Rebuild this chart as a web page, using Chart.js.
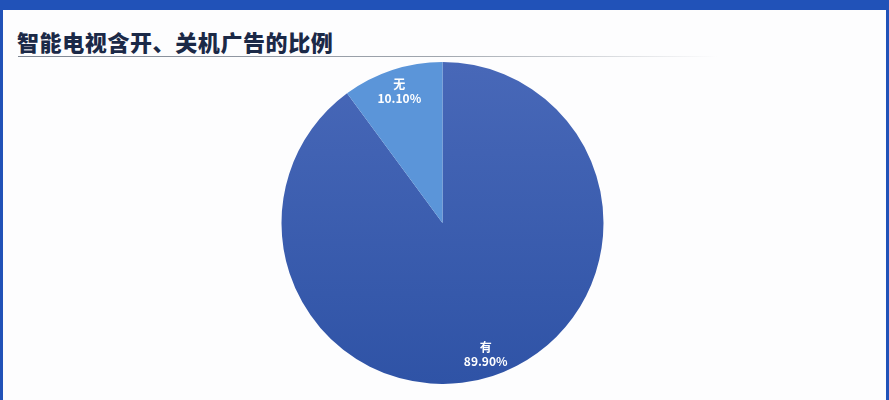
<!DOCTYPE html>
<html>
<head>
<meta charset="utf-8">
<script src="https://cdn.jsdelivr.net/npm/chart.js@4"></script>
<style>
  html, body { margin: 0; padding: 0; }
  body { width: 889px; height: 400px; overflow: hidden; background: #fdfdfe; position: relative; font-family: "Noto Sans CJK SC", sans-serif; }
  .frame { position: absolute; left: 0; top: 0; width: 883px; height: 390px; border-top: 10px solid #2152b8; border-left: 3px solid #2152b8; border-right: 3px solid #2152b8; }
  .title { position: absolute; left: 17px; top: 25px; font-size: 22px; font-weight: 900; color: #1b2947; letter-spacing: 0.6px; }
  .rule { position: absolute; left: 18px; top: 56px; width: 700px; height: 1px; background: linear-gradient(to right, #7d8592 0%, #a0a6ae 60%, rgba(210,214,220,0) 100%); }
  .box { position: absolute; left: 0; top: 62px; width: 885px; height: 322px; }
</style>
</head>
<body>
<div class="frame"></div>
<div class="title">智能电视含开、关机广告的比例</div>
<div class="rule"></div>
<div class="box"><canvas id="pie"></canvas></div>
<script>
const categories = ['有', '无'];
const shares = [89.9, 10.1];
const sliceColors = ['#3b5db0', '#5b95d9'];

// white two-line labels near the rim of each slice
const rimLabels = {
  id: 'rimLabels',
  afterDatasetsDraw(chart) {
    const ctx = chart.ctx;
    const meta = chart.getDatasetMeta(0);
    ctx.save();
    ctx.fillStyle = '#ffffff';
    ctx.textAlign = 'center';
    ctx.textBaseline = 'middle';
    ctx.font = 'bold 12px "Noto Sans CJK SC", sans-serif';
    meta.data.forEach((arc, i) => {
      const p = arc.getProps(['x', 'y', 'startAngle', 'endAngle', 'outerRadius'], true);
      const mid = (p.startAngle + p.endAngle) / 2;
      const r = p.outerRadius * 0.86;
      const x = p.x + Math.cos(mid) * r;
      const y = p.y + Math.sin(mid) * r;
      ctx.fillText(categories[i], x, y - 7);
      ctx.fillText(shares[i].toFixed(2) + '%', x, y + 7);
    });
    ctx.restore();
  }
};

function bigSliceFill(context) {
  const area = context.chart.chartArea;
  if (!area) return sliceColors[0];
  const g = context.chart.ctx.createLinearGradient(0, area.top, 0, area.bottom);
  g.addColorStop(0, '#4868b8');
  g.addColorStop(1, '#2f53a6');
  return g;
}

new Chart(document.getElementById('pie'), {
  type: 'pie',
  data: {
    labels: categories,
    datasets: [{
      data: shares,
      backgroundColor: ctx => ctx.dataIndex === 0 ? bigSliceFill(ctx) : sliceColors[1],
      borderWidth: 0
    }]
  },
  options: {
    responsive: true,
    maintainAspectRatio: false,
    animation: false,
    layout: { padding: 0 },
    plugins: {
      legend: { display: false },
      tooltip: { enabled: false },
      title: { display: false }
    }
  },
  plugins: [rimLabels]
});
</script>
</body>
</html>
